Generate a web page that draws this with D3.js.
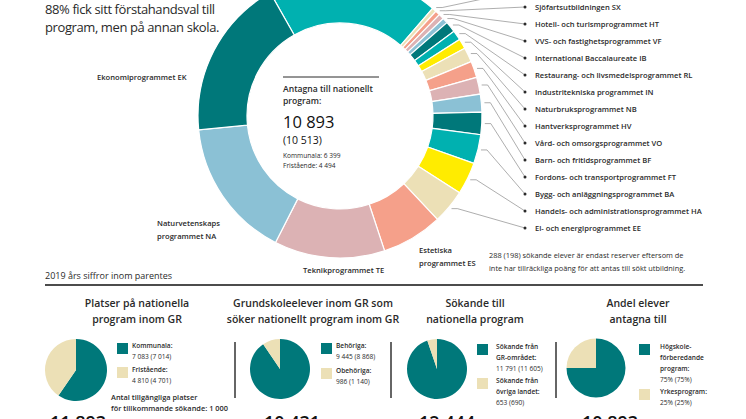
<!DOCTYPE html>
<html><head><meta charset="utf-8">
<script src="https://cdn.jsdelivr.net/npm/d3@7"></script>
<style>
body{margin:0;background:#fff;}
svg{display:block;font-family:"Open Sans",sans-serif;}
</style></head>
<body>
<svg id="c" width="746" height="419"></svg>
<script>
// ---------- data ----------
const programCodes = ["SA","HU","SX","HT","VF","IB","RL","IN","NB","HV","VO","BF","FT","BA","HA","EE","ES","TE","NA","EK"];
const programValues = [2124,54,60,67,67,136,121,124,182,203,209,221,278,360,400,424,756,1371,1737,2000];
const programColors = ["#00b1b0","#ece0b6","#f5a08a","#dcb2b4","#8bc1d5","#00787a","#00b1b0","#ffec00","#ece0b6","#f5a08a","#dcb2b4","#8bc1d5","#00787a","#00b1b0","#ffec00","#ece0b6","#f5a08a","#dcb2b4","#8bc1d5","#00787a"];
const legendCodes = ["HU","SX","HT","VF","IB","RL","IN","NB","HV","VO","BF","FT","BA","HA","EE"];
const legendNames = ["","Sjöfartsutbildningen SX","Hotell- och turismprogrammet HT","VVS- och fastighetsprogrammet VF","International Baccalaureate IB","Restaurang- och livsmedelsprogrammet RL","Industritekniska programmet IN","Naturbruksprogrammet NB","Hantverksprogrammet HV","Vård- och omsorgsprogrammet VO","Barn- och fritidsprogrammet BF","Fordons- och transportprogrammet FT","Bygg- och anläggningsprogrammet BA","Handels- och administrationsprogrammet HA","El- och energiprogrammet EE"];

const panelTitles = [["Platser på nationella","program inom GR"],["Grundskoleelever inom GR som","söker nationellt program inom GR"],["Sökande till","nationella program"],["Andel elever","antagna till"]];
const panelValues = [[7083,4810],[9445,986],[11791,653],[75,25]];
const panelLegend = [
  [["Kommunala:","7 083 (7 014)"],["Fristående:","4 810 (4 701)"]],
  [["Behöriga:","9 445 (8 868)"],["Obehöriga:","986 (1 140)"]],
  [["Sökande från","GR-området:","11 791 (11 605)"],["Sökande från","övriga landet:","653 (690)"]],
  [["Högskole-","förberedande","program:","75% (75%)"],["Yrkesprogram:","25% (25%)"]]
];
const panelTotals = ["11 893","10 431","12 444","10 893"];
const pieColors = ["#00787a","#ece0b6"];

// ---------- drawing ----------
const svg = d3.select("#c");
const ink = "#2a2a2a";
const cx = 340, cy = 116, rOut = 142, rIn = 93;
const a0 = -29.5*Math.PI/180;

// intro text
svg.append("text").attr("x",45).attr("y",14).attr("font-size",13).attr("letter-spacing",-0.4).attr("fill",ink).text("88% fick sitt förstahandsval till");
svg.append("text").attr("x",45).attr("y",32).attr("font-size",13).attr("letter-spacing",-0.4).attr("fill",ink).text("program, men på annan skola.");

const color = d3.scaleOrdinal().domain(programCodes).range(programColors);
const pie = d3.pie().sort(null).value(d=>d.v).startAngle(a0).endAngle(a0+2*Math.PI);
const arcs = pie(programCodes.map((c,i)=>({c, v:programValues[i]})));
const arc = d3.arc().innerRadius(rIn).outerRadius(rOut);
const g = svg.append("g").attr("transform",`translate(${cx},${cy})`);
g.selectAll("path").data(arcs).join("path")
  .attr("d",arc).attr("fill",d=>color(d.data.c))
  .attr("stroke","#fff").attr("stroke-width",1.2);

// leader lines + legend
const ly = d3.scalePoint().domain(legendCodes).range([-10,228]);
const dotX = 525;
legendCodes.forEach((code,i)=>{
  const d = arcs.find(a=>a.data.c===code);
  const m = (d.startAngle+d.endAngle)/2;
  const sx = cx + (rOut+3)*Math.sin(m), sy = cy - (rOut+3)*Math.cos(m);
  const ex = sx + 6, ey = sy;
  svg.append("path").attr("d",`M${sx},${sy}L${ex},${ey}L${dotX},${ly(code)}`)
    .attr("fill","none").attr("stroke","#777").attr("stroke-width",0.6);
  if (!legendNames[i]) return;
  svg.append("circle").attr("cx",dotX).attr("cy",ly(code)).attr("r",1.5).attr("fill",ink);
  svg.append("text").attr("x",535).attr("y",ly(code)+3).attr("font-size",7.6).attr("font-weight",600)
    .attr("fill",ink).text(legendNames[i]);
});

// big slice labels
const lbl = (x,y,lines)=>lines.forEach((t,i)=>svg.append("text").attr("x",x).attr("y",y+i*12.5).attr("font-size",7.6).attr("font-weight",600).attr("fill",ink).text(t));
lbl(97,80,["Ekonomiprogrammet EK"]);
lbl(157,226,["Naturvetenskaps","programmet NA"]);
lbl(303,273,["Teknikprogrammet TE"]);
lbl(419,253,["Estetiska","programmet ES"]);

// centre text
svg.append("line").attr("x1",283).attr("x2",379).attr("y1",77).attr("y2",77).attr("stroke",ink).attr("stroke-width",1);
svg.append("text").attr("x",283).attr("y",92).attr("font-size",8.6).attr("font-weight",600).attr("fill",ink).text("Antagna till nationellt");
svg.append("text").attr("x",283).attr("y",104).attr("font-size",8.6).attr("font-weight",600).attr("fill",ink).text("program:");
svg.append("text").attr("x",283).attr("y",128).attr("font-size",16.5).attr("fill","#111").text("10 893");
svg.append("text").attr("x",283).attr("y",144).attr("font-size",10.5).attr("fill","#111").text("(10 513)");
svg.append("text").attr("x",283).attr("y",158).attr("font-size",6.6).attr("fill",ink).text("Kommunala: 6 399");
svg.append("text").attr("x",283).attr("y",168).attr("font-size",6.6).attr("fill",ink).text("Fristående: 4 494");

// note
svg.append("text").attr("x",489).attr("y",258).attr("font-size",7.4).attr("fill",ink).text("288 (198) sökande elever är endast reserver eftersom de");
svg.append("text").attr("x",489).attr("y",271).attr("font-size",7.4).attr("fill",ink).text("inte har tillräckliga poäng för att antas till sökt utbildning.");

// bottom section
svg.append("text").attr("x",45).attr("y",279).attr("font-size",9).attr("fill",ink).text("2019 års siffror inom parentes");
svg.append("line").attr("x1",45).attr("x2",703).attr("y1",285).attr("y2",285).attr("stroke","#111").attr("stroke-width",1.5);
[235,391,556].forEach(x=>svg.append("line").attr("x1",x).attr("x2",x).attr("y1",342).attr("y2",398).attr("stroke","#333").attr("stroke-width",1.5));

const panels = [
  {tx:137, px:76, py:370, r:31, lx:117, ly:[343,367], tot:78},
  {tx:313, px:280, py:369, r:30, lx:321, ly:[343,368], tot:292},
  {tx:475, px:437, py:369, r:30, lx:477, ly:[344,378], tot:447},
  {tx:638, px:596, py:368, r:29.5, lx:639, ly:[344,389], tot:610}
];
const smallPie = d3.pie().sort(null).value(d=>d);
panels.forEach((p,k)=>{
  panelTitles[k].forEach((t,i)=>svg.append("text").attr("x",p.tx).attr("y",307+i*15.5).attr("text-anchor","middle")
    .attr("font-size",10.5).attr("font-weight",600).attr("fill",ink).text(t));
  const pg = svg.append("g").attr("transform",`translate(${p.px},${p.py})`);
  pg.selectAll("path").data(smallPie(panelValues[k])).join("path")
    .attr("d",d3.arc().innerRadius(0).outerRadius(p.r)).attr("fill",(d,i)=>pieColors[i]);
  panelLegend[k].forEach((item,j)=>{
    svg.append("rect").attr("x",p.lx).attr("y",p.ly[j]).attr("width",11).attr("height",11).attr("fill",pieColors[j]);
    item.forEach((t,i)=>svg.append("text").attr("x",p.lx+(k==3?21:(k==2?19:15))).attr("y",p.ly[j]+5+i*11)
      .attr("font-size",6.6).attr("font-weight",i===item.length-1?400:600).attr("fill",ink).text(t));
  });
  svg.append("text").attr("x",p.tot).attr("y",429).attr("text-anchor","middle").attr("font-size",18).attr("font-weight",600).attr("fill","#111").text(panelTotals[k]);
});
svg.append("text").attr("x",111).attr("y",400).attr("font-size",7.4).attr("font-weight",600).attr("fill",ink).text("Antal tillgängliga platser");
svg.append("text").attr("x",111).attr("y",411).attr("font-size",7.4).attr("font-weight",600).attr("fill",ink).text("för tillkommande sökande: 1 000");
</script>
</body></html>
